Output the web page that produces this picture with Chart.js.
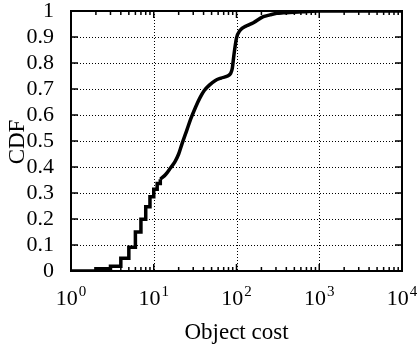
<!DOCTYPE html>
<html>
<head>
<meta charset="utf-8">
<script src="https://cdn.jsdelivr.net/npm/chart.js@4"></script>
<style>
  body { margin: 0; background: #fff; }
  #wrap { width: 417px; height: 348px; }
</style>
</head>
<body>
<div id="wrap"><canvas id="cdfChart"></canvas></div>
<script>
// small integer costs: the CDF is a staircase here
const stepCost = [1, 2, 3, 4, 5, 6, 7, 8, 9, 10, 11, 12];
const stepCdf = [0, 0.009, 0.018, 0.049, 0.091, 0.15, 0.199, 0.247, 0.286, 0.314, 0.337, 0.353];

// larger costs: the steps are dense enough to look continuous
const curveCost = [12, 14, 16, 18, 20, 22, 25, 28, 32, 36, 41, 47, 55, 65, 78, 85, 89, 93, 100, 110, 133, 160, 211, 254, 306, 368, 631, 1000, 10000];
const curveCdf = [0.353, 0.372, 0.397, 0.42, 0.45, 0.49, 0.54, 0.585, 0.63, 0.665, 0.695, 0.715, 0.732, 0.742, 0.75, 0.76, 0.78, 0.83, 0.896, 0.925, 0.943, 0.955, 0.978, 0.985, 0.991, 0.993, 0.997, 1, 1];

const yTicks = [0, 0.1, 0.2, 0.3, 0.4, 0.5, 0.6, 0.7, 0.8, 0.9, 1];
const decades = [0, 1, 2, 3, 4];   // exponents of 10 on the x axis

const xTitle = 'Object cost';
const yTitle = 'CDF';

const serif = '"Liberation Serif", "Times New Roman", serif';

// gnuplot-like box: dotted grid, inward ticks on all four sides, 10^k labels
const gnuplotFrame = {
  id: 'gnuplotFrame',
  beforeDatasetsDraw(chart) {
    const {ctx, chartArea: a, scales: {x, y}} = chart;
    ctx.save();
    ctx.strokeStyle = '#000';
    ctx.lineWidth = 1;
    ctx.setLineDash([1, 2]);
    ctx.beginPath();
    yTicks.forEach(v => {
      if (v <= 0 || v >= 1) return;
      const py = Math.round(y.getPixelForValue(v)) + 0.5;
      ctx.moveTo(a.left, py);
      ctx.lineTo(a.right, py);
    });
    decades.forEach(k => {
      if (k === 0 || k === 4) return;
      const px = Math.round(x.getPixelForValue(Math.pow(10, k))) + 0.5;
      ctx.moveTo(px, a.top);
      ctx.lineTo(px, a.bottom);
    });
    ctx.stroke();
    ctx.restore();
  },
  afterDatasetsDraw(chart) {
    const {ctx, chartArea: a, scales: {x, y}} = chart;
    ctx.save();
    ctx.strokeStyle = '#000';
    ctx.lineWidth = 1.5;
    ctx.beginPath();
    // y ticks, left and right
    yTicks.forEach(v => {
      const py = y.getPixelForValue(v);
      ctx.moveTo(a.left, py); ctx.lineTo(a.left + 7, py);
      ctx.moveTo(a.right, py); ctx.lineTo(a.right - 7, py);
    });
    // x ticks, major at decades and minor at 2..9
    decades.forEach(k => {
      for (let m = 1; m <= 9; m++) {
        const v = m * Math.pow(10, k);
        if (v > 10000) break;
        const px = x.getPixelForValue(v);
        const len = m === 1 ? 7 : 4;
        ctx.moveTo(px, a.bottom); ctx.lineTo(px, a.bottom - len);
        ctx.moveTo(px, a.top); ctx.lineTo(px, a.top + len);
      }
    });
    ctx.stroke();
    ctx.lineWidth = 2;
    ctx.strokeRect(a.left, a.top, a.right - a.left, a.bottom - a.top);
    ctx.restore();
  },
  afterDraw(chart) {
    const {ctx, chartArea: a, scales: {x}} = chart;
    ctx.save();
    ctx.fillStyle = '#000';
    ctx.textBaseline = 'alphabetic';
    decades.forEach(k => {
      const px = x.getPixelForValue(Math.pow(10, k));
      ctx.font = '22px ' + serif;
      const wBase = ctx.measureText('10').width;
      ctx.font = '15px ' + serif;
      const wExp = ctx.measureText(String(k)).width;
      const left = px - (wBase + 1 + wExp) / 2;
      ctx.font = '22px ' + serif;
      ctx.textAlign = 'left';
      ctx.fillText('10', left, a.bottom + 34);
      ctx.font = '15px ' + serif;
      ctx.fillText(String(k), left + wBase + 1, a.bottom + 25);
    });
    ctx.font = '23px ' + serif;
    ctx.textAlign = 'center';
    ctx.fillText(xTitle, (a.left + a.right) / 2, a.bottom + 68);
    ctx.translate(18, 142);
    ctx.rotate(-Math.PI / 2);
    ctx.textBaseline = 'middle';
    ctx.fillText(yTitle, 0, 0);
    ctx.restore();
  }
};

const lineStyle = {
  borderColor: '#000',
  borderWidth: 3.5,
  pointRadius: 0,
  fill: false,
  borderJoinStyle: 'miter',
  borderCapStyle: 'butt'
};

new Chart(document.getElementById('cdfChart'), {
  type: 'line',
  data: {
    datasets: [
      Object.assign({
        data: stepCost.map((c, i) => ({x: c, y: stepCdf[i]})),
        stepped: true
      }, lineStyle),
      Object.assign({
        data: curveCost.map((c, i) => ({x: c, y: curveCdf[i]})),
        cubicInterpolationMode: 'monotone'
      }, lineStyle)
    ]
  },
  options: {
    responsive: true,
    maintainAspectRatio: false,
    animation: false,
    layout: { padding: { left: 0, right: 15, top: 11, bottom: 77 } },
    plugins: { legend: { display: false }, tooltip: { enabled: false } },
    scales: {
      x: { type: 'logarithmic', min: 1, max: 10000, display: false },
      y: {
        min: 0,
        max: 1,
        grid: { display: false, drawTicks: false },
        border: { display: false },
        ticks: {
          stepSize: 0.1,
          padding: 17,
          color: '#000',
          font: { family: serif, size: 22, lineHeight: 1 },
          callback: v => String(Number(v.toFixed(1)))
        },
        afterFit(s) {
          s.width = 71;
          s.paddingTop = 0;
          s.paddingBottom = 0;
        }
      }
    }
  },
  plugins: [gnuplotFrame]
});
</script>
</body>
</html>
